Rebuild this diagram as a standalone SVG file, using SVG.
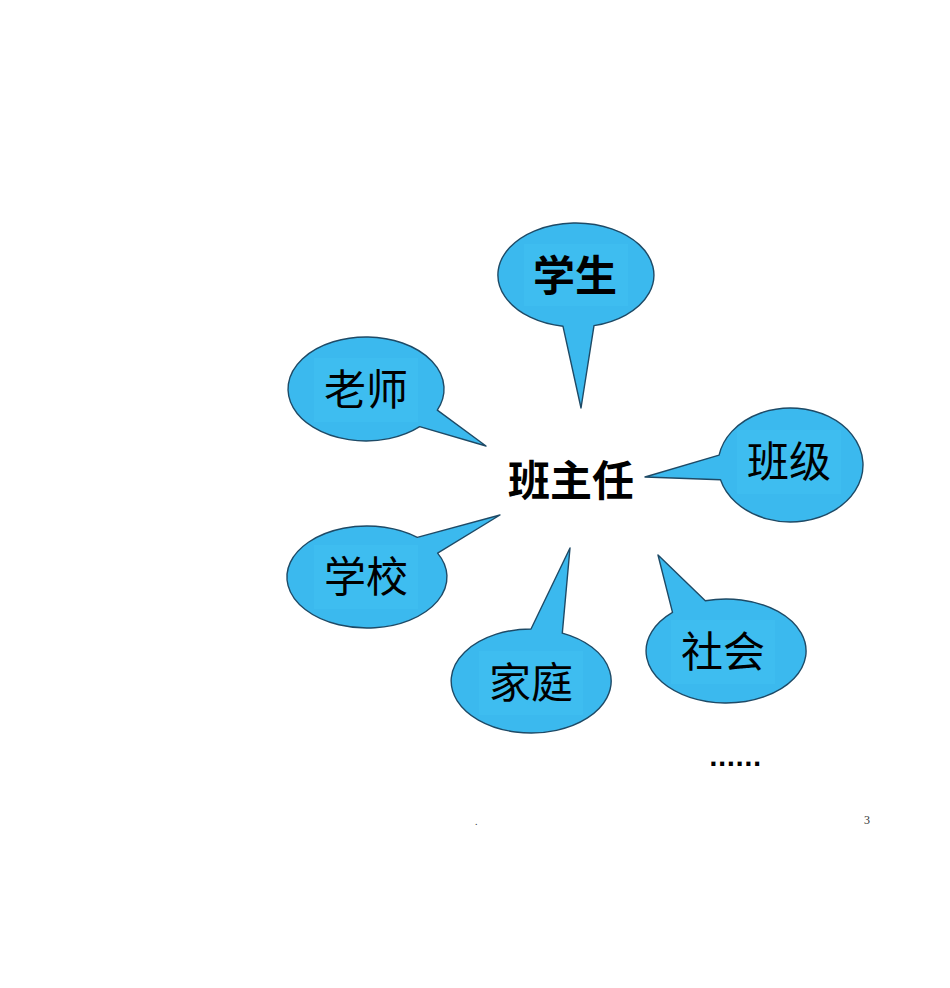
<svg xmlns="http://www.w3.org/2000/svg" width="950" height="988" viewBox="0 0 950 988">
<style>
.b{fill:#3bb9ee;stroke:#1e4a66;stroke-width:1.4;stroke-linejoin:round}
.r{fill:#3ebdf0}
.t{font-family:"Noto Sans CJK SC","Noto Sans",sans-serif;font-size:42px;fill:#000;text-anchor:middle}
.bd{font-weight:bold}
</style>
<rect width="950" height="988" fill="#fff"/>
<g id="connectors"></g>
<g id="node-xuesheng">
<path class="b" d="M594,325.6 L581,408 L563,326.3 A78,52 0 1 1 594,325.6 Z"/>
<rect class="r" x="524" y="244" width="104" height="62"/>
<text class="t bd" x="575" y="291">学生</text>
</g>
<g id="node-laoshi">
<path class="b" d="M437.3,410.1 L486,446 L419.7,426.7 A78,52 0 1 1 437.3,410.1 Z"/>
<rect class="r" x="314" y="358" width="104" height="64"/>
<text class="t" x="366" y="405">老师</text>
</g>
<g id="node-banji">
<path class="b" d="M720.5,479.8 L645,477 L719.1,455.1 A72.5,57 0 1 1 720.5,479.8 Z"/>
<rect class="r" x="737" y="430" width="104" height="64"/>
<text class="t" x="789" y="477">班级</text>
</g>
<g id="node-xuexiao">
<path class="b" d="M417.3,537.4 L500,515 L437.6,553.1 A80,51 0 1 1 417.3,537.4 Z"/>
<rect class="r" x="314" y="545" width="104" height="64"/>
<text class="t" x="366" y="592">学校</text>
</g>
<g id="node-jiating">
<path class="b" d="M531,629 L570,548 L562.3,633.1 A80,52 0 1 1 531,629 Z"/>
<rect class="r" x="479" y="651" width="104" height="64"/>
<text class="t" x="531" y="698">家庭</text>
</g>
<g id="node-shehui">
<path class="b" d="M672.5,612.4 L658,555 L705.3,600.8 A80,52 0 1 1 672.5,612.4 Z"/>
<rect class="r" x="671" y="620" width="104" height="64"/>
<text class="t" x="723" y="667">社会</text>
</g>
<g id="node-banzhuren">
<text class="t bd" x="571" y="496">班主任</text>
</g>
<g id="more">
<text x="709" y="766" style="font-family:'DejaVu Sans',sans-serif;font-size:23px;font-weight:bold;fill:#000">......</text>
</g>
<text x="475" y="825" style="font-family:'Liberation Serif',serif;font-size:10px;fill:#333">.</text>
<text x="864" y="824" style="font-family:'Liberation Serif',serif;font-size:12px;fill:#333">3</text>
</svg>
